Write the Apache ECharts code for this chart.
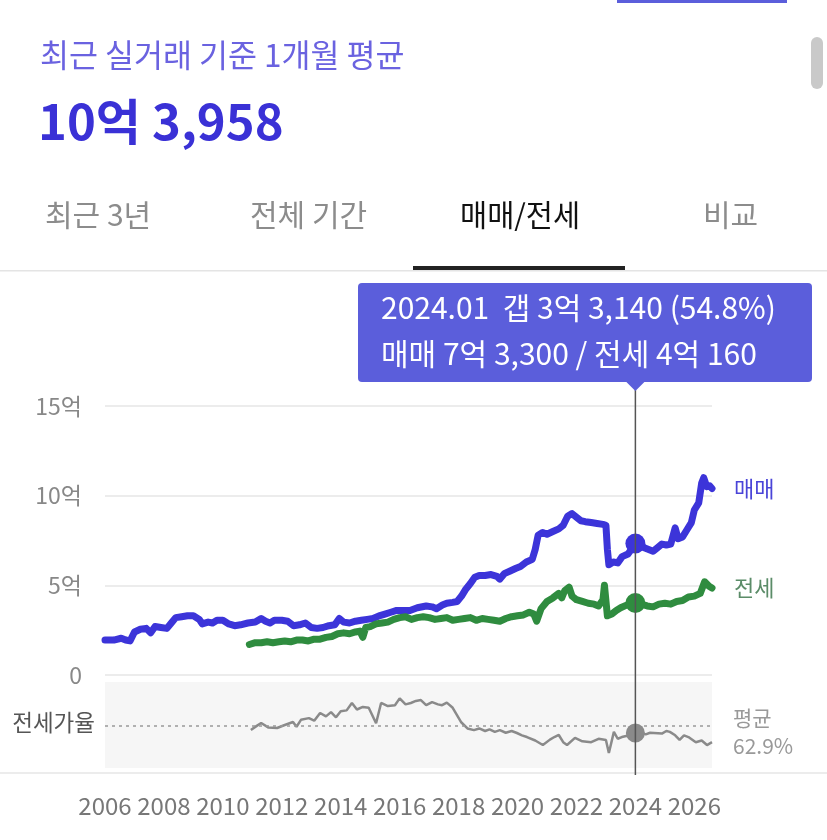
<!DOCTYPE html>
<html><head><meta charset="utf-8">
<script src="https://cdn.jsdelivr.net/npm/echarts@6/dist/echarts.min.js"></script>
<style>html,body{margin:0;padding:0;background:#fff;}#c{width:827px;height:840px;}</style>
</head><body><div id="c"></div>
<script>
// ---- data (억 원 unless noted) ----
const headerTitle = '최근 실거래 기준 1개월 평균';
const headerValueMan = 103958; // 만원
const tabs = ['최근 3년', '전체 기간', '매매/전세', '비교'];
const yTicks = [0, 5, 10, 15];

const saleYears = [2006.0,2006.3,2006.55,2006.7,2006.85,2007.0,2007.2,2007.4,2007.55,2007.7,2007.9,2008.1,2008.25,2008.4,2008.6,2008.8,2009.0,2009.2,2009.3,2009.5,2009.65,2009.8,2010.0,2010.2,2010.4,2010.6,2010.85,2011.1,2011.3,2011.45,2011.6,2011.75,2012.0,2012.2,2012.4,2012.6,2012.8,2013.0,2013.2,2013.4,2013.6,2013.8,2013.95,2014.1,2014.3,2014.5,2014.7,2014.9,2015.1,2015.3,2015.5,2015.7,2015.9,2016.1,2016.35,2016.6,2016.9,2017.1,2017.25,2017.45,2017.6,2017.8,2017.95,2018.1,2018.25,2018.4,2018.55,2018.7,2018.9,2019.1,2019.3,2019.4,2019.55,2019.75,2019.95,2020.1,2020.3,2020.5,2020.6,2020.7,2020.85,2021.0,2021.2,2021.4,2021.55,2021.7,2021.85,2022.0,2022.15,2022.3,2022.5,2022.7,2022.9,2023.0,2023.05,2023.1,2023.25,2023.4,2023.55,2023.75,2023.9,2024.0,2024.15,2024.3,2024.45,2024.6,2024.75,2024.9,2025.05,2025.2,2025.35,2025.45,2025.6,2025.75,2025.9,2026.0,2026.15,2026.25,2026.32,2026.42,2026.52,2026.6];
const saleValues = [1.95,1.95,2.05,1.95,1.9,2.4,2.55,2.6,2.35,2.7,2.65,2.6,2.9,3.2,3.25,3.3,3.3,3.1,2.85,2.95,2.9,3.05,3.05,2.85,2.75,2.8,2.9,2.95,3.15,3.0,2.9,3.05,3.05,3.0,2.75,2.8,2.9,2.65,2.6,2.65,2.75,2.8,3.15,2.95,2.9,3.0,3.05,3.1,3.15,3.3,3.4,3.5,3.6,3.6,3.6,3.75,3.85,3.8,3.7,3.9,4.0,4.05,4.1,4.4,4.8,5.1,5.45,5.55,5.55,5.6,5.5,5.35,5.65,5.8,5.95,6.05,6.3,6.45,7.0,7.8,7.95,7.85,8.0,8.15,8.35,8.85,9.0,8.8,8.6,8.55,8.5,8.45,8.4,8.35,7.0,6.15,6.3,6.25,6.6,6.75,7.1,7.33,7.3,7.1,7.0,6.9,7.1,7.3,7.25,7.3,8.2,7.6,7.7,8.1,8.5,9.2,9.6,10.7,11.0,10.5,10.55,10.4];

const jeonseYears = [2010.9,2011.1,2011.3,2011.5,2011.7,2011.9,2012.1,2012.3,2012.5,2012.7,2012.9,2013.1,2013.3,2013.5,2013.7,2013.9,2014.1,2014.3,2014.5,2014.65,2014.75,2014.85,2015.0,2015.2,2015.4,2015.6,2015.8,2016.0,2016.2,2016.4,2016.6,2016.8,2017.0,2017.2,2017.4,2017.6,2017.8,2018.0,2018.2,2018.4,2018.6,2018.8,2019.0,2019.2,2019.4,2019.6,2019.8,2020.0,2020.2,2020.4,2020.55,2020.65,2020.8,2021.0,2021.2,2021.4,2021.5,2021.6,2021.75,2021.85,2022.0,2022.2,2022.4,2022.6,2022.75,2022.9,2022.95,2023.05,2023.2,2023.35,2023.5,2023.7,2023.85,2024.0,2024.2,2024.4,2024.6,2024.8,2025.0,2025.2,2025.4,2025.6,2025.8,2026.0,2026.2,2026.35,2026.5,2026.6];
const jeonseValues = [1.7,1.8,1.8,1.85,1.8,1.85,1.9,1.85,1.95,1.95,1.9,2.0,2.0,2.1,2.15,2.3,2.35,2.3,2.4,2.45,2.1,2.65,2.7,2.85,2.9,2.95,3.1,3.2,3.25,3.1,3.2,3.25,3.2,3.1,3.15,3.2,3.05,3.1,3.15,3.2,3.05,3.15,3.1,3.05,3.0,3.15,3.25,3.3,3.35,3.5,3.4,3.0,3.7,4.1,4.3,4.55,4.3,4.7,4.9,4.4,4.2,4.1,4.0,3.95,3.85,4.2,5.0,3.3,3.4,3.6,3.75,3.9,3.95,4.016,3.95,3.85,3.8,3.95,4.0,3.95,4.1,4.15,4.35,4.4,4.55,5.2,4.95,4.85];

const bandYears = [2010.9,2011.5,2012,2013,2014,2015,2016,2017,2018,2019,2020,2020.7,2021,2021.5,2022,2022.5,2023,2023.5,2024,2024.5,2025,2025.5,2026,2026.3,2026.6];
const bandLow  = [1.6,1.6,1.7,1.7,1.9,2.3,2.7,2.9,2.8,2.8,2.9,2.6,3.4,3.6,3.4,3.2,2.6,3.2,3.3,3.3,3.5,3.7,3.9,4.3,4.4];
const bandHigh = [2.2,2.6,2.5,2.3,2.6,2.9,3.5,3.6,3.5,3.4,3.6,3.9,4.8,5.2,4.9,4.6,4.6,4.5,4.7,4.6,4.6,4.9,5.1,5.8,5.5];

// 전세가율 (%)
const ratioYears = [2010.95,2011.15,2011.3,2011.55,2011.84,2012.1,2012.38,2012.5,2012.65,2012.92,2013.1,2013.3,2013.5,2013.67,2013.84,2014.0,2014.2,2014.38,2014.55,2014.75,2014.95,2015.2,2015.37,2015.6,2015.84,2016.0,2016.2,2016.38,2016.55,2016.72,2016.9,2017.1,2017.3,2017.44,2017.6,2017.8,2018.08,2018.3,2018.52,2018.7,2018.9,2019.05,2019.23,2019.4,2019.6,2019.8,2019.98,2020.15,2020.32,2020.6,2020.86,2021.1,2021.25,2021.4,2021.55,2021.68,2021.95,2022.2,2022.5,2022.75,2023.0,2023.1,2023.27,2023.4,2023.54,2023.8,2024.05,2024.2,2024.35,2024.5,2024.63,2024.9,2025.05,2025.17,2025.35,2025.5,2025.65,2025.8,2026.05,2026.25,2026.43,2026.6];
const ratioValues = [58.2,63,66.3,61,60.5,64,67.5,62,70,72,69,78,74,79,73,80,81,89.6,82,85,84,66,89.6,86,87,95,88,89.6,92,93,87,90.7,88,87,90,84,67.5,60,58,60,57,59,56,58,55,57,54.7,52,50,46,40.7,47,50,52.4,44,40.7,49,45,44,48,46.6,31.4,56,48,50,52,54.8,55,53,55,54.7,54,57,56,52,46.6,52,50,44,46,40.7,44];
const ratioAverage = 62.9;

const focusLabel = '2024.01';
const focusYear = 2024.0;
const focusSaleMan = 73300;   // 만원
const focusJeonseMan = 40160; // 만원

// ---- helpers ----
const FONT = '"Noto Sans CJK KR", "Noto Sans", sans-serif';
const zip = (xs, ys) => xs.map((x, i) => [x, ys[i]]);
const toEok = v => { const e = Math.floor(v / 10000), r = v % 10000; return (e ? e + '억 ' : '') + r.toLocaleString('en-US'); };
const focusRatio = (focusJeonseMan / focusSaleMan * 100).toFixed(1);

const BLUE = '#3c34d9', GREEN = '#2f8c3f', GRAY = '#8a8a8a', TIP = '#5b5edb';

const option = {
  animation: false,
  textStyle: { fontFamily: FONT },
  grid: [
    { left: 105, top: 406, width: 607, height: 269 },
    { left: 105, top: 682, width: 607, height: 86, show: true, backgroundColor: '#f6f6f6', borderWidth: 0 }
  ],
  xAxis: [
    { gridIndex: 0, type: 'value', min: 2006, max: 2026.6, interval: 2, show: false },
    { gridIndex: 1, type: 'value', min: 2006, max: 2026.6, interval: 2,
      axisLine: { show: false }, axisTick: { show: false }, splitLine: { show: false },
      axisLabel: { margin: 26, fontSize: 24, color: '#777', fontFamily: FONT, showMaxLabel: false,
        formatter: v => Number.isInteger(v) ? String(v) : '' } }
  ],
  yAxis: [
    { gridIndex: 0, type: 'value', min: 0, max: 15, interval: 5,
      axisLine: { show: false }, axisTick: { show: false },
      splitLine: { lineStyle: { color: '#e6e6e6', width: 1.5 } },
      axisLabel: { margin: 23, fontSize: 23, color: '#888', fontFamily: FONT,
        formatter: v => yTicks.includes(v) ? (v === 0 ? '0' : v + '억') : '' } },
    { gridIndex: 1, type: 'value', min: 14, max: 114, show: false }
  ],
  series: [
    { type: 'line', xAxisIndex: 0, yAxisIndex: 0, stack: 'band', data: zip(bandYears, bandLow),
      showSymbol: false, lineStyle: { width: 0, opacity: 0 }, silent: true },
    { type: 'line', xAxisIndex: 0, yAxisIndex: 0, stack: 'band', data: bandYears.map((x, i) => [x, bandHigh[i] - bandLow[i]]),
      showSymbol: false, lineStyle: { width: 0, opacity: 0 }, areaStyle: { color: 'rgba(70,160,90,0.17)' }, silent: true },
    { name: '매매', type: 'line', xAxisIndex: 0, yAxisIndex: 0, data: zip(saleYears, saleValues),
      showSymbol: false, lineStyle: { color: BLUE, width: 7, cap: 'round', join: 'round' }, itemStyle: { color: BLUE },
      endLabel: { show: true, formatter: '매매', distance: 22, fontSize: 22, color: '#4a44d8', fontFamily: FONT } },
    { name: '전세', type: 'line', xAxisIndex: 0, yAxisIndex: 0, data: zip(jeonseYears, jeonseValues),
      showSymbol: false, lineStyle: { color: GREEN, width: 7, cap: 'round', join: 'round' }, itemStyle: { color: GREEN },
      endLabel: { show: true, formatter: '전세', distance: 22, fontSize: 22, color: '#5b8c68', fontFamily: FONT } },
    { type: 'scatter', xAxisIndex: 0, yAxisIndex: 0, symbolSize: 20, z: 5,
      data: [[focusYear, focusSaleMan / 10000]], itemStyle: { color: BLUE, opacity: 1 } },
    { type: 'scatter', xAxisIndex: 0, yAxisIndex: 0, symbolSize: 20, z: 5,
      data: [[focusYear, focusJeonseMan / 10000]], itemStyle: { color: GREEN, opacity: 1 } },
    { name: '전세가율', type: 'line', xAxisIndex: 1, yAxisIndex: 1, data: zip(ratioYears, ratioValues),
      showSymbol: false, lineStyle: { color: GRAY, width: 2.5 },
      markLine: { silent: true, symbol: 'none', label: { show: false },
        lineStyle: { color: '#999', type: [3, 4], width: 1.5 }, data: [{ yAxis: ratioAverage }] } },
    { type: 'scatter', xAxisIndex: 1, yAxisIndex: 1, symbolSize: 19, z: 5,
      data: [[focusYear, +focusRatio]], itemStyle: { color: GRAY, opacity: 1 } }
  ]
};

const chart = echarts.init(document.getElementById('c'));
chart.setOption(option);
const px = chart.convertToPixel({ xAxisIndex: 0 }, focusYear);
const avgY = chart.convertToPixel({ yAxisIndex: 1 }, ratioAverage);

const txt = (x, y, text, size, color, extra) => Object.assign({
  type: 'text', x, y, silent: true,
  style: Object.assign({ text, fontSize: size, fill: color, fontFamily: FONT, verticalAlign: 'middle', align: 'left' }, extra || {})
});

chart.setOption({
  graphic: [
    { type: 'rect', shape: { x: 617, y: 0, width: 170, height: 3 }, style: { fill: TIP } },
    { type: 'rect', shape: { x: 811, y: 37, width: 12, height: 52, r: 6 }, style: { fill: '#c9c9c9' } },
    txt(40, 55, headerTitle, 31.5, '#6a62e0'),
    txt(38, 121, toEok(headerValueMan), 49, '#3a31d6', { fontWeight: 'bold' }),
    txt(45, 215, tabs[0], 30, '#8c8c8c'),
    txt(250, 215, tabs[1], 30, '#8c8c8c'),
    txt(460, 215, tabs[2], 29.5, '#111'),
    txt(703, 215, tabs[3], 30, '#8c8c8c'),
    { type: 'rect', shape: { x: 0, y: 270, width: 827, height: 1.5 }, style: { fill: '#e4e4e4' } },
    { type: 'rect', shape: { x: 413, y: 266, width: 212, height: 4 }, style: { fill: '#222' } },
    { type: 'rect', shape: { x: 0, y: 772, width: 827, height: 2 }, style: { fill: '#ececec' } },
    txt(95, avgY - 3, '전세가율', 22.5, '#555', { align: 'right' }),
    txt(733, avgY - 8, '평균', 21, '#999'),
    txt(733, avgY + 20, ratioAverage + '%', 21, '#999'),
    { type: 'line', shape: { x1: px, y1: 390, x2: px, y2: 775 }, style: { stroke: '#555', lineWidth: 1.5 }, z: 10 },
    { type: 'rect', shape: { x: 358, y: 283, width: 454, height: 99, r: 4 }, style: { fill: TIP }, z: 11 },
    { type: 'polygon', shape: { points: [[px - 10, 381], [px + 10, 381], [px, 391]] }, style: { fill: TIP }, z: 11 },
    Object.assign(txt(381, 308, focusLabel + '  갭 ' + toEok(focusSaleMan - focusJeonseMan) + ' (' + focusRatio + '%)', 30, '#fff', { letterSpacing: 1.6 }), { z: 12 }),
    Object.assign(txt(381, 354, '매매 ' + toEok(focusSaleMan) + ' / 전세 ' + toEok(focusJeonseMan), 30, '#fff', { letterSpacing: 2.2 }), { z: 12 })
  ]
});
</script>
</body></html>
